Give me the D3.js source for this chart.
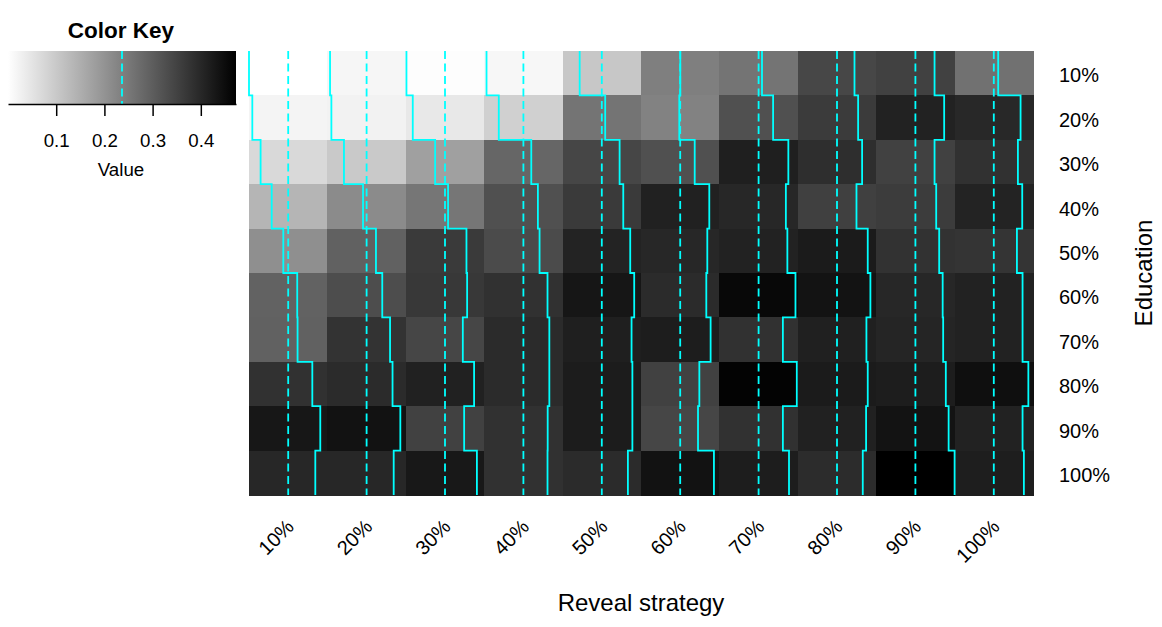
<!DOCTYPE html>
<html>
<head>
<meta charset="utf-8">
<script src="https://cdn.jsdelivr.net/npm/d3@7"></script>
<style>
  body { margin: 0; background: #fff; }
  text { font-family: "Liberation Sans", Arial, sans-serif; fill: #000; }
</style>
</head>
<body>
<svg id="chart" width="1162" height="627"></svg>
<script>
// Reveal strategy (columns) and Education (rows)
const revealLabels = ["10%", "20%", "30%", "40%", "50%", "60%", "70%", "80%", "90%", "100%"];
const educationLabels = ["10%", "20%", "30%", "40%", "50%", "60%", "70%", "80%", "90%", "100%"];

// one row per education level, values over reveal strategy
const values = [
    [0.000, 0.016, 0.004, 0.014, 0.103, 0.237, 0.257, 0.342, 0.352, 0.263],
    [0.020, 0.024, 0.042, 0.088, 0.257, 0.231, 0.324, 0.364, 0.410, 0.398],
    [0.070, 0.100, 0.177, 0.284, 0.344, 0.324, 0.416, 0.388, 0.352, 0.382],
    [0.137, 0.215, 0.255, 0.324, 0.366, 0.412, 0.401, 0.354, 0.362, 0.408],
    [0.207, 0.293, 0.366, 0.334, 0.408, 0.400, 0.410, 0.422, 0.380, 0.376],
    [0.291, 0.331, 0.370, 0.382, 0.432, 0.394, 0.459, 0.438, 0.401, 0.410],
    [0.293, 0.378, 0.344, 0.393, 0.416, 0.420, 0.383, 0.414, 0.404, 0.410],
    [0.382, 0.393, 0.412, 0.393, 0.421, 0.352, 0.467, 0.422, 0.420, 0.445],
    [0.430, 0.440, 0.352, 0.383, 0.421, 0.344, 0.383, 0.412, 0.437, 0.410],
    [0.400, 0.400, 0.429, 0.382, 0.394, 0.440, 0.420, 0.392, 0.473, 0.418]
];

const keyTicks = [0.1, 0.2, 0.3, 0.4];
const traceCol = "#00ffff";

const svg = d3.select("#chart");

const allValues = values.flat();
const [vMin, vMax] = d3.extent(allValues);
const vLine = (vMin + vMax) / 2;   // heatmap.2 vline = median of breaks

const color = d3.scaleLinear().domain([vMin, vMax]).range(["#ffffff", "#000000"]);

// Heatmap area
const x = d3.scaleBand().domain(revealLabels).range([249, 1033]);
const y = d3.scaleBand().domain(educationLabels).range([51, 495]);

const cells = [];
values.forEach((row, i) => {
    row.forEach((v, j) => {
        cells.push({ edu: educationLabels[i], reveal: revealLabels[j], value: v });
    });
});

svg.append("g")
    .selectAll("rect")
    .data(cells)
    .enter().append("rect")
    .attr("x", d => x(d.reveal))
    .attr("y", d => y(d.edu))
    .attr("width", x.bandwidth() + 0.5)
    .attr("height", y.bandwidth() + 0.5)
    .attr("shape-rendering", "crispEdges")
    .style("fill", d => color(d.value));

// Trace lines: dashed vline and step trace per column
const traceG = svg.append("g");
revealLabels.forEach((lab, j) => {
    const within = d3.scaleLinear()
        .domain([vMin, vMax])
        .range([x(lab), x(lab) + x.bandwidth()]);

    traceG.append("line")
        .attr("x1", within(vLine))
        .attr("x2", within(vLine))
        .attr("y1", y.range()[0])
        .attr("y2", y.range()[1])
        .style("stroke", traceCol)
        .style("stroke-width", 1.8)
        .style("stroke-dasharray", "8,4.5");

    const pts = educationLabels.map((e, i) => [within(values[i][j]), y(e)]);
    pts.push([within(values[values.length - 1][j]), y.range()[1]]);

    traceG.append("path")
        .attr("d", d3.line().curve(d3.curveStepBefore)(pts))
        .style("fill", "none")
        .style("stroke", traceCol)
        .style("stroke-width", 1.8);
});

// Column labels (rotated)
svg.append("g")
    .selectAll("text")
    .data(revealLabels)
    .enter().append("text")
    .attr("transform", d => "translate(" + (x(d) + x.bandwidth() / 2 + 2) + ",523) rotate(-45)")
    .attr("text-anchor", "end")
    .attr("dy", "0.35em")
    .style("font-size", "20px")
    .text(d => d);

// Row labels
svg.append("g")
    .selectAll("text")
    .data(educationLabels)
    .enter().append("text")
    .attr("x", 1059)
    .attr("y", d => y(d) + y.bandwidth() / 2 + 2)
    .attr("dy", "0.36em")
    .style("font-size", "20px")
    .text(d => d);

// Axis titles
svg.append("text")
    .attr("x", 641)
    .attr("y", 611)
    .attr("text-anchor", "middle")
    .style("font-size", "24px")
    .text("Reveal strategy");

svg.append("text")
    .attr("transform", "translate(1152,273) rotate(-90)")
    .attr("text-anchor", "middle")
    .style("font-size", "24px")
    .text("Education");

// Color key
const keyX = d3.scaleLinear().domain([vMin, vMax]).range([8, 236]);
const keyTop = 51, keyBottom = 104;

const grad = svg.append("defs").append("linearGradient")
    .attr("id", "keyGrad")
    .attr("x1", "0%").attr("x2", "100%");
grad.append("stop").attr("offset", "0%").attr("stop-color", color(vMin));
grad.append("stop").attr("offset", "100%").attr("stop-color", color(vMax));

svg.append("rect")
    .attr("x", keyX(vMin))
    .attr("y", keyTop)
    .attr("width", keyX(vMax) - keyX(vMin))
    .attr("height", keyBottom - keyTop)
    .style("fill", "url(#keyGrad)");

svg.append("line")
    .attr("x1", keyX(vLine)).attr("x2", keyX(vLine))
    .attr("y1", keyTop).attr("y2", keyBottom)
    .style("stroke", traceCol)
    .style("stroke-width", 1.8)
    .style("stroke-dasharray", "8,4.5");

const keyAxis = svg.append("g")
    .attr("transform", "translate(0," + keyBottom + ")")
    .call(d3.axisBottom(keyX)
        .tickValues(keyTicks)
        .tickFormat(d3.format(".1f"))
        .tickSize(12)
        .tickSizeOuter(0)
        .tickPadding(18));
keyAxis.select(".domain").style("stroke", "#000").style("stroke-width", 1.5);
keyAxis.selectAll(".tick line").style("stroke", "#000").style("stroke-width", 1.5);
keyAxis.selectAll(".tick text")
    .style("font-size", "18.7px")
    .style("font-family", "'Liberation Sans', Arial, sans-serif")
    .style("fill", "#000");

svg.append("text")
    .attr("x", 121)
    .attr("y", 38)
    .attr("text-anchor", "middle")
    .style("font-size", "22.5px")
    .style("font-weight", "bold")
    .text("Color Key");

svg.append("text")
    .attr("x", 121)
    .attr("y", 176)
    .attr("text-anchor", "middle")
    .style("font-size", "18.7px")
    .text("Value");
</script>
</body>
</html>
